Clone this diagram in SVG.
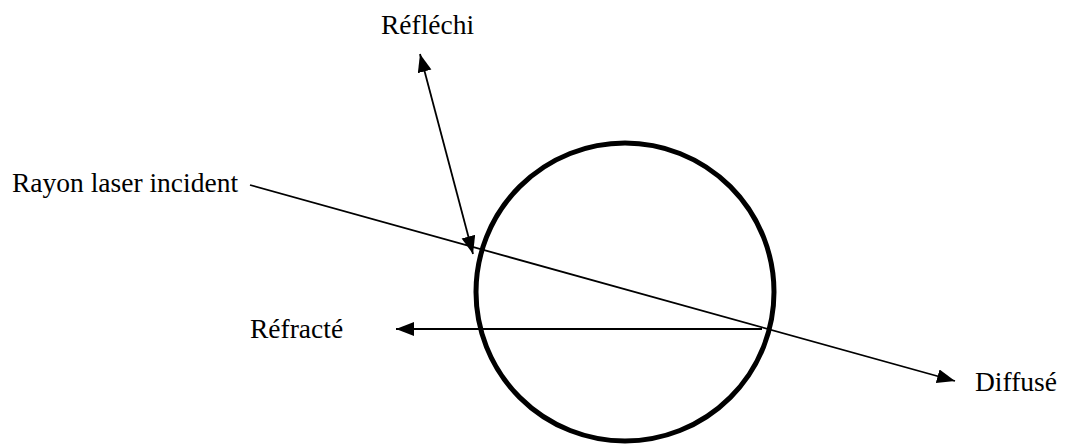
<svg xmlns="http://www.w3.org/2000/svg" width="1074" height="445" viewBox="0 0 1074 445">
  <style>
    .lbl { font-family: "Liberation Serif", "Times New Roman", serif; font-size: 27.5px; fill: #000; }
    .ray { stroke: #000; stroke-width: 1.8; fill: none; }
  </style>
  <defs>
    <marker id="ah" markerUnits="userSpaceOnUse" markerWidth="20" markerHeight="16" refX="18" refY="7" orient="auto-start-reverse">
      <path d="M0,0 L18,7 L0,14 z" fill="#000"/>
    </marker>
  </defs>
  <rect width="1074" height="445" fill="#fff"/>
  <g id="sphere">
    <circle cx="625" cy="292" r="149" fill="none" stroke="#000" stroke-width="5"/>
  </g>
  <g id="connectors">
    <line class="ray" x1="250" y1="185" x2="955" y2="381" marker-end="url(#ah)"/>
    <line class="ray" x1="473" y1="254" x2="420" y2="54" marker-start="url(#ah)" marker-end="url(#ah)"/>
    <line class="ray" x1="762" y1="329" x2="396" y2="329" marker-end="url(#ah)"/>
  </g>
  <g id="label-reflechi"><text class="lbl" x="381" y="34">Réfléchi</text></g>
  <g id="label-incident"><text class="lbl" x="12" y="192">Rayon laser incident</text></g>
  <g id="label-refracte"><text class="lbl" x="250" y="338">Réfracté</text></g>
  <g id="label-diffuse"><text class="lbl" x="975" y="391">Diffusé</text></g>
</svg>
